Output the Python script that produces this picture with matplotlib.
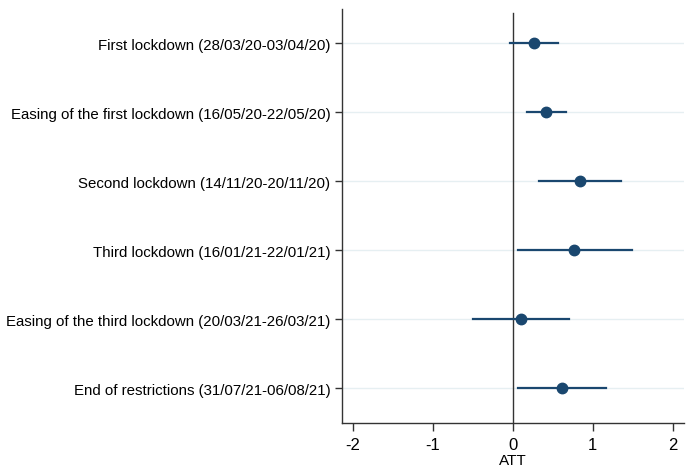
import matplotlib.pyplot as plt

plt.rcParams['font.family'] = ['Liberation Sans', 'DejaVu Sans']

# periods, point estimates and confidence interval bounds
labels = ["First lockdown (28/03/20-03/04/20)",
          "Easing of the first lockdown (16/05/20-22/05/20)",
          "Second lockdown (14/11/20-20/11/20)",
          "Third lockdown (16/01/21-22/01/21)",
          "Easing of the third lockdown (20/03/21-26/03/21)",
          "End of restrictions (31/07/21-06/08/21)"]
att = [0.27, 0.42, 0.84, 0.77, 0.10, 0.62]
ci_low = [-0.03, 0.18, 0.33, 0.06, -0.50, 0.07]
ci_high = [0.57, 0.66, 1.35, 1.49, 0.70, 1.17]
xticks = [-2, -1, 0, 1, 2]

navy = '#1a476f'
fig = plt.figure(figsize=(6.95, 4.77), dpi=100)
ax = fig.add_axes([0.4917, 0.111, 0.4923, 0.868])

ypos = list(range(1, len(labels) + 1))
for y in ypos:
    ax.axhline(y, color='#e6eff2', linewidth=1.0, zorder=0)

ax.axvline(0, color='#333333', linewidth=1.0, ymax=0.99, zorder=1)

for y, lo, hi in zip(ypos, ci_low, ci_high):
    ax.plot([lo, hi], [y, y], color=navy, linewidth=1.6, zorder=2)
ax.plot(att, ypos, 'o', color=navy, markersize=7.5, zorder=3)

ax.set_xlim(-2.14, 2.14)
ax.set_ylim(6.507, 0.507)
ax.set_yticks(ypos)
ax.set_yticklabels(labels, fontsize=10.8)
ax.set_xticks(xticks)
ax.set_xticklabels([str(t) for t in xticks], fontsize=12)
ax.set_xlabel('ATT', fontsize=11, labelpad=1)

for s in ['top', 'right']:
    ax.spines[s].set_visible(False)
for s in ['left', 'bottom']:
    ax.spines[s].set_color('#333333')
    ax.spines[s].set_linewidth(1.0)
ax.tick_params(axis='y', length=5, width=1, color='#333333', pad=3)
ax.tick_params(axis='x', length=6, width=1, color='#333333', pad=4)

fig.savefig('out.png', dpi=100)
